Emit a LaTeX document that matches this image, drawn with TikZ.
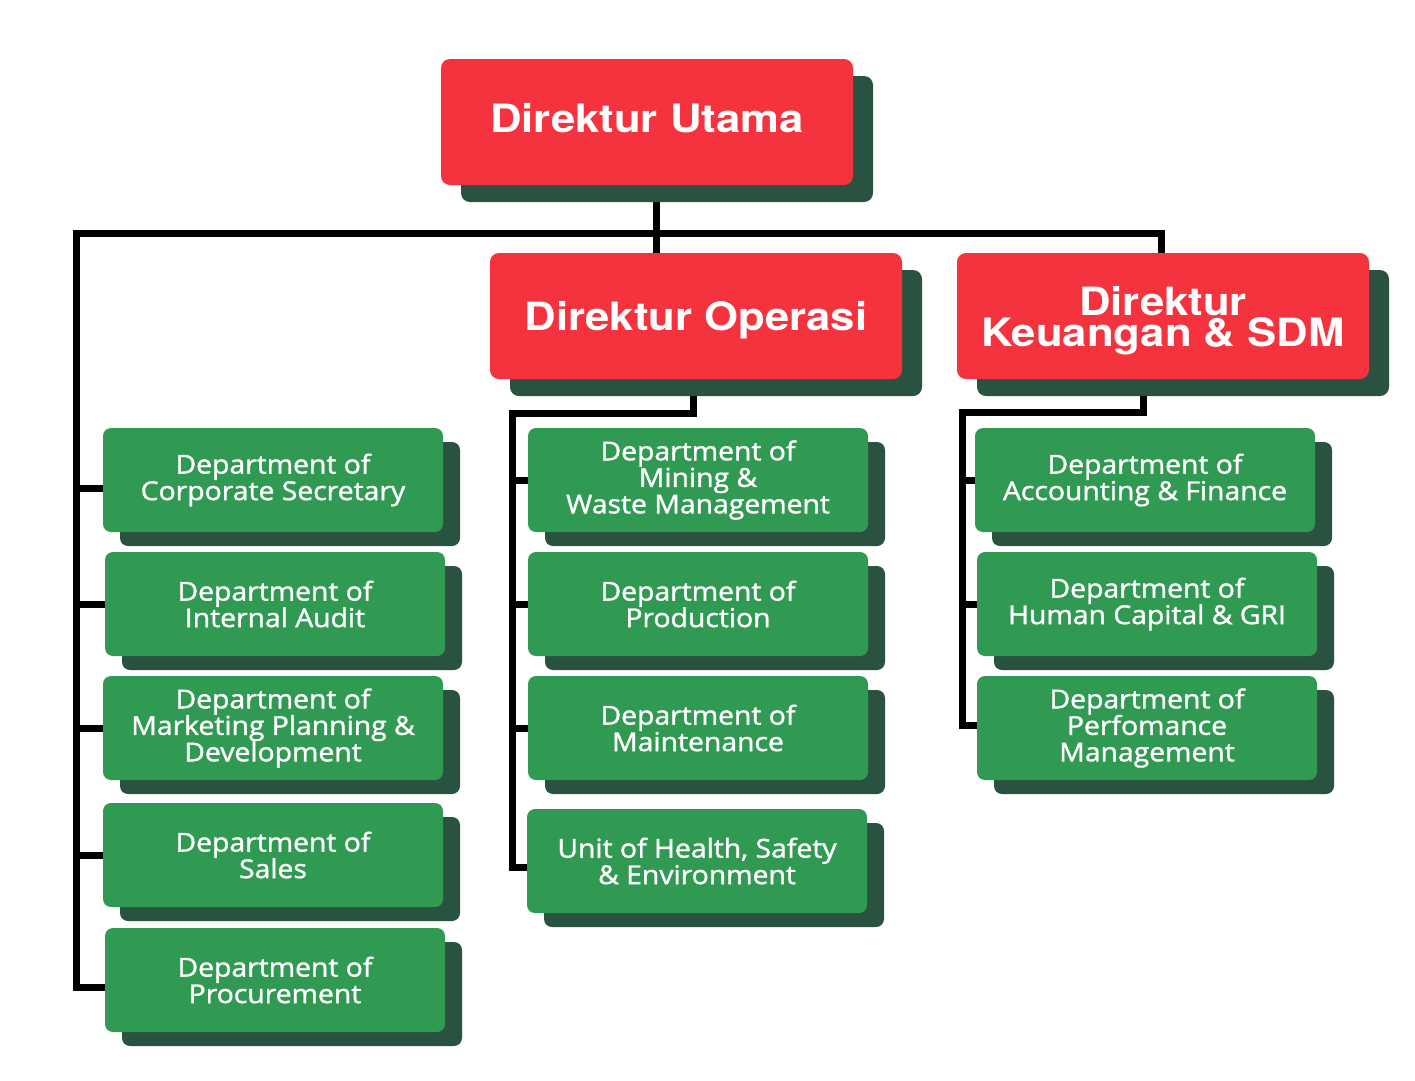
\documentclass[tikz,border=0pt]{standalone}
\usepackage{fontspec}
\setmainfont{Open Sans}
\newfontfamily\redf{TeX Gyre Heros}[FakeStretch=1.12]
\newfontfamily\grf{Open Sans}[FakeStretch=1.09,FakeBold=1.4]
\usetikzlibrary{shadows,backgrounds}
\definecolor{redc}{RGB}{245,51,63}
\definecolor{shadc}{RGB}{42,82,64}
\definecolor{greenc}{RGB}{48,154,82}
\begin{document}
\begin{tikzpicture}[x=1pt,y=-1pt,
 dirbox/.style={rectangle, rounded corners=9pt, fill=redc, text=white, minimum width=412pt, minimum height=126pt, inner sep=0pt, align=center, font=\redf\bfseries\fontsize{39}{30}\selectfont, drop shadow={shadow xshift=20pt, shadow yshift=-17pt, fill=shadc, opacity=1}},
 deptbox/.style={rectangle, rounded corners=8pt, fill=greenc, text=white, minimum width=340pt, minimum height=104pt, inner sep=0pt, align=center, font=\grf\fontsize{26}{26.5}\selectfont, drop shadow={shadow xshift=17pt, shadow yshift=-14pt, fill=shadc, opacity=1}},
 conn/.style={line width=7pt, draw=black, line join=miter}]
\useasboundingbox (0,0) rectangle (1415,1080);
% directors
\node[dirbox, text depth=8pt] (du) at (647,122) {Direktur Utama};
\node[dirbox, text depth=0pt] (do) at (696,316) {Direktur Operasi};
\node[dirbox, text depth=0pt, font=\redf\bfseries\fontsize{39}{31}\selectfont] (dk) at (1163,316) {Direktur\\Keuangan \& SDM};
% left column
\node[deptbox] (cs) at (273,480) {Department of\\Corporate Secretary};
\node[deptbox] (ia) at (275,604) {Department of\\Internal Audit};
\node[deptbox] (mk) at (273,728) {Department of\\Marketing Planning \&\\Development};
\node[deptbox] (sl) at (273,855) {Department of\\Sales};
\node[deptbox] (pr) at (275,980) {Department of\\Procurement};
% middle column
\node[deptbox] (mw) at (698,480) {Department of\\Mining \&\\Waste Management};
\node[deptbox] (pd) at (698,604) {Department of\\Production};
\node[deptbox] (mt) at (698,728) {Department of\\Maintenance};
\node[deptbox] (hs) at (697,861) {Unit of Health, Safety\\\& Environment};
% right column
\node[deptbox] (af) at (1145,480) {Department of\\Accounting \& Finance};
\node[deptbox] (hc) at (1147,604) {Department of\\Human Capital \& GRI};
\node[deptbox] (pm) at (1147,728) {Department of\\Perfomance\\Management};
\begin{scope}[on background layer]
\fill[white] (0,0) rectangle (1415,1080);
\coordinate (busL) at (76,233);
\coordinate (busR) at (1161,233);
\coordinate (j0) at (656,233);
\path ([yshift=-8pt]cs.west) coordinate (cs1);
\path ([yshift=-7pt]pr.west) coordinate (pr1);
\path ([yshift=-6pt]hs.west) coordinate (hs1);
\path ([yshift=3pt]pm.west) coordinate (pm1);
\draw[conn] (pr1) -- (pr1 -| busL) -- (busL) -- (busR) -- (busR |- dk.north);
\draw[conn] (j0 |- du.south) -- (j0) -- (j0 |- do.north);
\draw[conn] (cs1) -- (cs1 -| busL);
\draw[conn] (ia.west) -- (ia.west -| busL);
\draw[conn] (mk.west) -- (mk.west -| busL);
\draw[conn] (sl.west) -- (sl.west -| busL);
% middle
\coordinate (mt0) at (512,413);
\coordinate (md) at (693,413);
\draw[conn] (hs1) -- (hs1 -| mt0) -- (mt0) -- (md) -- (md |- do.south);
\draw[conn] (mw.west) -- (mw.west -| mt0);
\draw[conn] (pd.west) -- (pd.west -| mt0);
\draw[conn] (mt.west) -- (mt.west -| mt0);
% right
\coordinate (rt0) at (962,412);
\coordinate (rd) at (1143,412);
\draw[conn] (pm1) -- (pm1 -| rt0) -- (rt0) -- (rd) -- (rd |- dk.south);
\draw[conn] (af.west) -- (af.west -| rt0);
\draw[conn] (hc.west) -- (hc.west -| rt0);
\end{scope}
\end{tikzpicture}
\end{document}
